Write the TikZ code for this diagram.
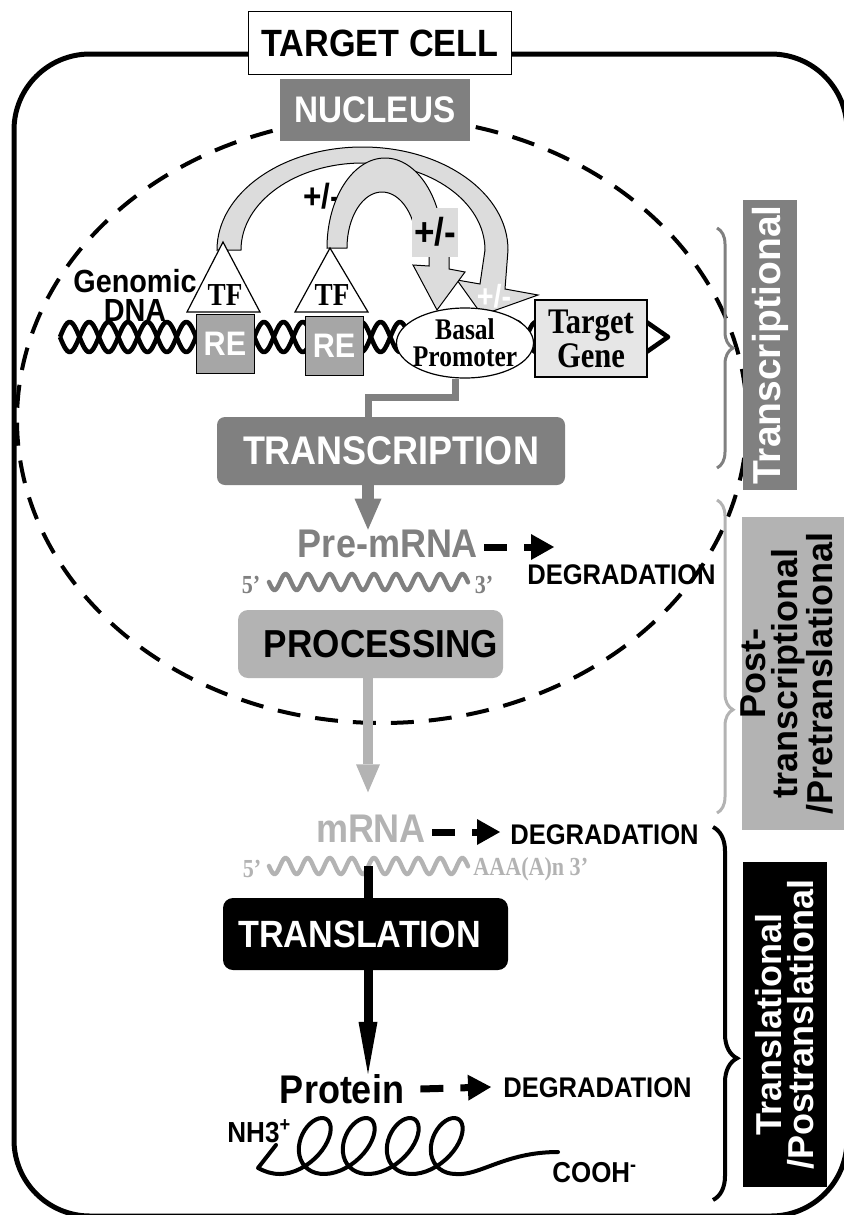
\documentclass[tikz,border=0pt]{standalone}
\usepackage{fontspec}
\setmainfont{Liberation Sans}[FakeStretch=0.9]
\newfontfamily\sidefont{Liberation Sans}
\newfontfamily\tnr{Liberation Serif}[FakeStretch=0.85]
\usetikzlibrary{arrows.meta,shapes.geometric,decorations.pathreplacing}

\definecolor{darkgr}{HTML}{808080}
\definecolor{lightgr}{HTML}{B3B3B3}
\definecolor{palegr}{HTML}{DCDCDC}
\definecolor{regr}{HTML}{A6A6A6}
\definecolor{genegr}{HTML}{E6E6E6}

\newcommand{\fsz}[2]{\fontsize{#1}{#2}\selectfont\bfseries}

\tikzset{
  txt/.style={inner sep=0pt},
  cell/.style={line width=2.5pt,rounded corners=38pt},
  envelope/.style={line width=2pt,dash pattern=on 11.5pt off 7.5pt},
  titlebox/.style={draw,line width=0.5pt,fill=white,minimum width=131.5pt,minimum height=31.5pt,inner sep=0pt,font=\fsz{19}{20}},
  nucbox/.style={fill=darkgr,text=white,minimum width=95pt,minimum height=31pt,inner sep=0pt,font=\fsz{18.5}{20}},
  helix/.style={line width=2.3pt,line join=round},
  band/.style={draw,fill=palegr,line width=0.5pt},
  pm/.style={inner sep=0pt,font=\fsz{17.5}{18}},
  pmbox/.style={fill=palegr,minimum width=23pt,minimum height=24.5pt,inner sep=0pt,font=\fsz{19.5}{20}},
  tfshape/.style={draw,fill=white,line width=0.6pt},
  tftext/.style={inner sep=0pt,font=\tnr\fsz{16}{18}},
  rebox/.style={draw,fill=regr,line width=0.5pt,text=white,minimum width=29pt,minimum height=29.5pt,inner sep=0pt,font=\fsz{17}{18}},
  promoter/.style={ellipse,draw,fill=white,line width=0.6pt,minimum width=68.5pt,minimum height=35pt,inner sep=0pt},
  protext/.style={inner sep=0pt,align=center,font=\tnr\fsz{15}{13.5}},
  genebox/.style={draw,fill=genegr,line width=0.6pt,minimum width=56pt,minimum height=38.5pt,inner sep=0pt,align=center,font=\tnr\fsz{18}{14.5}},
  dnatext/.style={inner sep=0pt,align=center,font=\fsz{16}{14.5}},
  stage/.style={rounded corners=4pt,inner sep=0pt},
  tconn/.style={darkgr,line width=3.5pt},
  tarrow/.style={darkgr,line width=6pt,-{Triangle[length=15.5pt,width=13.5pt,line width=0pt]}},
  parrow/.style={lightgr,line width=5pt,-{Triangle[length=14pt,width=12pt,line width=0pt]}},
  larrow/.style={line width=4.5pt,-{Triangle[length=26pt,width=9.5pt,line width=0pt]}},
  degr/.style={line width=3.5pt,dash pattern=on 11.5pt off 8.5pt,-{Triangle[length=11.5pt,width=13pt,line width=0pt]}},
  degtext/.style={inner sep=0pt,font=\fsz{14.2}{16}},
  wave/.style={line width=2.2pt,line cap=round},
  primes/.style={inner sep=0pt,font=\tnr\fsz{13}{14}},
  coil/.style={line width=2pt,line cap=round,line join=round},
  gbrace/.style={decorate,decoration={brace,amplitude=8pt,aspect=#1},line width=1.5pt},
  gbrace/.default=0.5,
  bbrace/.style={decorate,decoration={brace,amplitude=12pt,aspect=0.62},line width=2pt},
  sidebox/.style={rotate=90,inner sep=0pt,align=center},
}

\begin{document}
\begin{tikzpicture}[x=0.5pt,y=-0.5pt]
\useasboundingbox (0,0) rectangle (843,1215);
\coordinate (spine) at (368,0);

% cell and nuclear envelope
\draw[cell] (14,54) rectangle (847,1216);
\draw[envelope] (382,420) ellipse [x radius=365,y radius=303];
\node[titlebox] (cell) at (380,43) {TARGET CELL};
\node[nucbox] (nucleus) at (375,110) {NUCLEUS};

% genomic DNA double helix
\draw[helix] plot[domain=60:640,samples=400] (\x,{337+15*sin(9.264*(\x-60))});
\draw[helix] plot[domain=60:640,samples=400] (\x,{337-15*sin(9.264*(\x-60))});
\draw[helix] (645,321) -- (668,337) -- (645,353);
\node[dnatext] (dna) at (135,295) {Genomic\\DNA};

% TF feedback onto the basal promoter
\draw[band] (217,250) arc[start angle=180,end angle=360,x radius=145.5,y radius=103]
  -- (505,289) -- (538,295) -- (482,315) -- (457,280) -- (480,284) -- (485,250)
  arc[start angle=0,end angle=-180,x radius=122,y radius=87] -- cycle;
\node[pm] (pm1) at (322,196) {+/-};
\draw[band] (327,248) arc[start angle=180,end angle=360,x radius=58,y radius=90]
  -- (417,248) arc[start angle=0,end angle=-180,x radius=35,y radius=56] -- cycle;
\draw[band] (429,250) -- (429,266) -- (413,265) -- (437,310) -- (465,272) -- (449,269) -- (449,250) -- cycle;
\node[pmbox] (pm2) at (435,232) {+/-};

% response elements with bound factors
\draw[tfshape] (223,242) -- (260,312) -- (187,312) -- cycle;
\draw[tfshape] (330,248) -- (368,312) -- (295,312) -- cycle;
\node[tftext] (tf1) at (225,295) {TF};
\node[tftext] (tf2) at (332,295) {TF};
\node[rebox] (re1) at (225,343.5) {RE};
\node[rebox] (re2) at (334,346) {RE};
\node[promoter,label={[protext]center:Basal\\Promoter}] (promoter) at (465,343) {};
\node[genebox] (gene) at (591,338.5) {Target\\Gene};
\node[pm,text=white,font=\fsz{16}{18}] (pm3) at (494,296) {+/-};

% transcription
\node[stage,fill=darkgr,text=white,minimum width=174pt,minimum height=34pt,font=\fsz{20}{22}] (transcription) at (391,451) {TRANSCRIPTION};
\draw[tconn] ([xshift=-5pt]promoter.south) -- ++(0,19) -| (transcription.north -| spine);
\node[txt,text=darkgr,font=\fsz{20}{22}] (premrna) at (388,544) {Pre-mRNA};
\draw[tarrow] (transcription.south -| spine) -- (premrna.north -| spine);
\draw[wave,darkgr] plot[domain=269:468,samples=200] (\x,{582+8*sin(16.29*(\x-269))});
\node[primes,text=darkgr] (p5a) at (251,585) {5’};
\node[primes,text=darkgr] (p3a) at (484,585) {3’};
\coordinate (deg1tip) at (554,547);
\draw[degr] ([shift={(3pt,-1.5pt)}]premrna.east) -- (deg1tip);
\node[degtext] (deg1) at (621.5,575) {DEGRADATION};

% processing
\node[stage,rounded corners=5pt,fill=lightgr,minimum width=132.5pt,minimum height=34pt,font=\fsz{19.5}{21}] (processing) at (370.5,644) {\hspace*{10.5pt}PROCESSING};
\node[txt,text=lightgr,font=\fsz{20}{22}] (mrna) at (371,828.5) {mRNA};
\draw[parrow,shorten >=11pt] (processing.south -| spine) -- (mrna.north -| spine);
\draw[wave,lightgr] plot[domain=269:468,samples=200] (\x,{866+8*sin(16.29*(\x-269))});
\node[primes,text=lightgr] (p5b) at (252,869) {5’};
\node[primes,text=lightgr,anchor=west] (polya) at (473,869) {AAA(A)n 3’};
\coordinate (deg2tip) at (500,832);
\draw[degr] ([shift={(3pt,-1.75pt)}]mrna.east) -- (deg2tip);
\node[degtext] (deg2) at (604.5,835) {DEGRADATION};

% translation
\coordinate (mwave) at (368,866);
\node[txt,font=\fsz{20}{22}] (protein) at (342,1089) {Protein};
\draw[larrow] (mwave) -- (protein.north -| spine);
\node[stage,rounded corners=5pt,fill=black,text=white,minimum width=142.5pt,minimum height=36pt,font=\fsz{19}{21}] (translation) at (365.5,934) {TRANSLATION\hspace*{6pt}};
\coordinate (deg3tip) at (491,1087);
\draw[degr] ([xshift=8pt]protein.east) -- (deg3tip);
\node[degtext] (deg3) at (597.5,1087.5) {DEGRADATION};

% polypeptide chain
\node[txt,anchor=base west,font=\fsz{14.5}{16}] (nterm) at (227,1142) {NH3\textsuperscript{+}};
\node[txt,anchor=base west,font=\fsz{14.4}{16}] (cterm) at (552,1182) {COOH\textsuperscript{-}};
\draw[coil] (276,1145) -- (258,1168) .. controls (266,1172) and (272,1174) .. (280,1174)
  -- plot[domain=0:1440,samples=160] ({280+0.1222*\x+24*sin(\x)+10*(1-cos(\x))},{1146+28*cos(\x)})
  .. controls (480,1176) and (505,1152) .. (558,1152);

% levels of regulation
\draw[gbrace,darkgr] (717,228) -- (717,468);
\draw[gbrace=0.67,lightgr] (717,500) -- (717,813);
\draw[bbrace] (713,827) -- (713,1200);
\node[sidebox,fill=darkgr,text=white,minimum width=145pt,minimum height=27pt,font=\sidefont\fsz{19.5}{20}] (tlab) at (770,345) {Transcriptional};
\node[sidebox,fill=lightgr,minimum width=156.5pt,minimum height=53pt] (pbox) at (795,673.5) {};
\node[sidebox,font=\sidefont\fsz{18}{16}] (plab) at (787,673.5) {Post-\\transcriptional\\/Pretranslational};
\node[sidebox,fill=black,text=white,minimum width=162.5pt,minimum height=42pt,font=\sidefont\fsz{18}{16}] (llab) at (785,1024.5) {Translational\\/Postranslational};
\end{tikzpicture}
\end{document}
